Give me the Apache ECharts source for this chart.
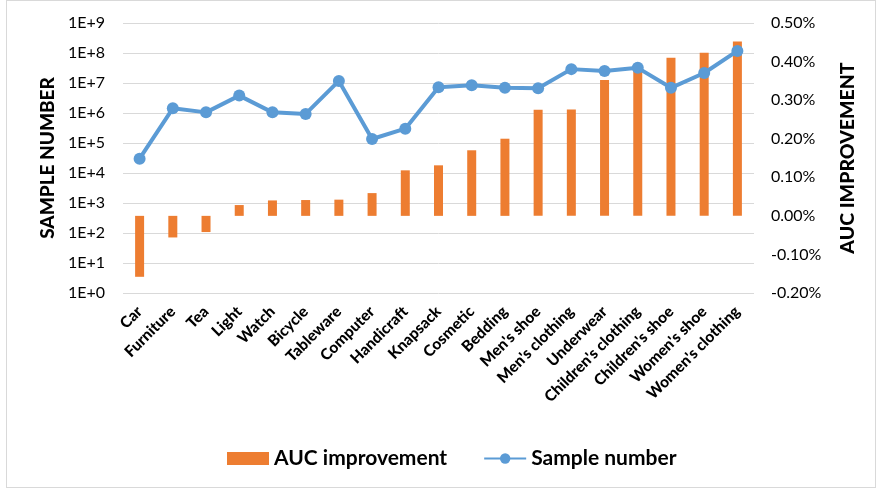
<!DOCTYPE html>
<html>
<head>
<meta charset="utf-8">
<script src="https://cdn.jsdelivr.net/npm/echarts@6/dist/echarts.min.js"></script>
<style>
html,body{margin:0;padding:0;background:#fff;}
#frame{position:absolute;left:6px;top:0px;width:870px;height:488px;border:1px solid #D9D9D9;box-sizing:border-box;}
#chart{position:absolute;left:0;top:0;width:878px;height:490px;}
</style>
</head>
<body>
<div id="frame"></div>
<div id="chart"></div>
<script>
const categories = ["Car","Furniture","Tea","Light","Watch","Bicycle","Tableware","Computer","Handicraft","Knapsack","Cosmetic","Bedding","Men's shoe","Men's clothing","Underwear","Children's clothing","Children's shoe","Women's shoe","Women's clothing"];
// AUC improvement, in percent
const aucImprovement = [-0.158,-0.056,-0.042,0.028,0.040,0.041,0.042,0.059,0.118,0.131,0.170,0.200,0.275,0.276,0.352,0.385,0.410,0.423,0.452];
const sampleNumber = [3.0e4,1.43e6,1.05e6,3.8e6,1.05e6,9.3e5,1.17e7,1.36e5,3.0e5,7.2e6,8.4e6,6.9e6,6.7e6,2.9e7,2.5e7,3.2e7,6.9e6,2.15e7,1.17e8];
const leftTicks = ["1E+0","1E+1","1E+2","1E+3","1E+4","1E+5","1E+6","1E+7","1E+8","1E+9"];
const rightTicks = ["-0.20%","-0.10%","0.00%","0.10%","0.20%","0.30%","0.40%","0.50%"];

const FONT = 'Lato, "Open Sans", sans-serif';
const chart = echarts.init(document.getElementById('chart'), null, {renderer:'canvas'});
chart.setOption({
  animation:false,
  textStyle:{fontFamily:FONT},
  grid:{left:123,right:124,top:23,bottom:197,containLabel:false},
  legend:{
    top:443,left:222,itemWidth:42,itemHeight:13,itemGap:36,
    textStyle:{fontFamily:FONT,fontSize:21,fontWeight:'bold',color:'#000'},
    data:[{name:'AUC improvement',icon:'rect'},{name:'Sample number'}]
  },
  xAxis:{
    type:'category',data:categories,
    axisLine:{show:false},axisTick:{show:false},
    axisLabel:{rotate:45,interval:0,margin:16,fontFamily:FONT,fontSize:15.5,fontWeight:900,color:'#000'}
  },
  yAxis:[{
    type:'log',logBase:10,min:1,max:1e9,
    name:'SAMPLE NUMBER',nameLocation:'middle',nameGap:62,nameRotate:90,
    nameTextStyle:{fontFamily:FONT,fontSize:19,fontWeight:900,color:'#000'},
    axisLine:{show:false},axisTick:{show:false},
    splitLine:{lineStyle:{color:'#D9D9D9',width:1}},
    axisLabel:{fontFamily:FONT,fontSize:16,color:'#000',margin:18,
      formatter:v=>leftTicks[Math.round(Math.log10(v))]}
  },{
    type:'value',min:-0.2,max:0.5,interval:0.1,
    name:'AUC IMPROVEMENT',nameLocation:'middle',nameGap:84,nameRotate:90,
    nameTextStyle:{fontFamily:FONT,fontSize:19.5,fontWeight:900,color:'#000'},
    axisLine:{show:false},axisTick:{show:false},splitLine:{show:false},
    axisLabel:{fontFamily:FONT,fontSize:16,color:'#000',margin:17,
      formatter:v=>rightTicks[Math.round((v+0.2)*10)]}
  }],
  series:[{
    name:'AUC improvement',type:'bar',yAxisIndex:1,data:aucImprovement,
    barWidth:9,itemStyle:{color:'#ED7D31'}
  },{
    name:'Sample number',type:'line',yAxisIndex:0,data:sampleNumber,
    symbol:'circle',symbolSize:12,
    lineStyle:{color:'#5B9BD5',width:4},itemStyle:{color:'#5B9BD5'}
  }]
});
</script>
</body>
</html>
